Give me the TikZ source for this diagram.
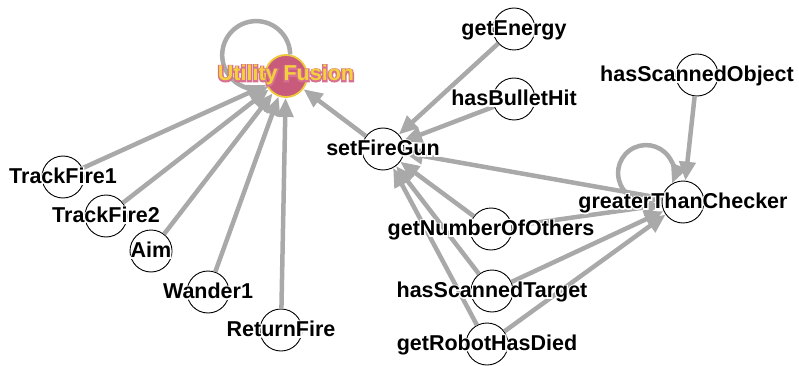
\documentclass[tikz,border=0pt]{standalone}
\usepackage{fontspec}
\setmainfont{Liberation Sans}
% heavily emboldened copy of the label face, used as a halo behind the text
\newfontface\halofont{Liberation Sans Bold}[FakeBold=12]
\usetikzlibrary{arrows.meta}

\definecolor{linkgray}{HTML}{A9A9A9}
\definecolor{hubfill}{HTML}{C85A7C}
\definecolor{hubring}{HTML}{F0C83C}
\definecolor{hubtext}{HTML}{F2D13B}
\definecolor{hubhalo}{HTML}{D8708F}

\newcommand\halo[2]{\leavevmode\rlap{\halofont\color{#1}#2}#2}

\begin{document}
\begin{tikzpicture}[x=1pt,y=-1pt,
  vertex/.style={circle, draw=black, line width=0.9pt, fill=white,
                 minimum size=42pt, inner sep=0pt},
  hub/.style={circle, draw=hubring, line width=1.8pt, fill=hubfill,
              minimum size=42pt, inner sep=0pt},
  tag/.style={anchor=base, inner sep=0pt,
              font=\fontsize{21.5}{26}\selectfont\bfseries},
  edge/.style={draw=linkgray, line width=4.5pt,
               -{Triangle[length=19pt,width=16pt]}},
]
\useasboundingbox (0,0) rectangle (799,366);

% vertices
\node[hub]    (uf)  at (286,76)  {};
\node[vertex] (en)  at (514,29)  {};
\node[vertex] (bh)  at (514,99)  {};
\node[vertex] (so)  at (697,75)  {};
\node[vertex] (fg)  at (383,149) {};
\node[vertex] (gt)  at (683,202) {};
\node[vertex] (no)  at (491,229) {};
\node[vertex] (st)  at (492,291) {};
\node[vertex] (rd)  at (487,344) {};
\node[vertex] (t1)  at (63,177)  {};
\node[vertex] (t2)  at (106,216) {};
\node[vertex] (aim) at (151,251) {};
\node[vertex] (w1)  at (208,292) {};
\node[vertex] (rf)  at (281,330) {};

% links into the fusion node
\draw[edge] (t1)  -- (uf);
\draw[edge] (t2)  -- (uf);
\draw[edge] (aim) -- (uf);
\draw[edge] (w1)  -- (uf);
\draw[edge] (rf)  -- (uf);
\draw[edge] (fg)  -- (uf);
\draw[edge] (uf.79) arc[start angle=-1, end angle=-291.6, radius=34];

% links into setFireGun
\draw[edge] (en) -- (fg);
\draw[edge] (bh) -- (fg);
\draw[edge] (gt) -- (fg);
\draw[edge] (no) -- (fg);
\draw[edge] (st) -- (fg);
\draw[edge] (rd) -- (fg);

% links into greaterThanChecker
\draw[edge] (so) -- (gt);
\draw[edge] (no) -- (gt);
\draw[edge] (st) -- (gt);
\draw[edge] (rd) -- (gt);
\draw[edge] (gt.163) arc[start angle=54, end angle=381.8, radius=28];

% labels
\node[tag, text=hubtext] (uf-l) at ([yshift=-5pt]uf.center) {\halo{hubhalo}{Utility Fusion}};
\node[tag] (en-l)  at ([yshift=-6.5pt]en.center)  {\halo{white}{getEnergy}};
\node[tag] (bh-l)  at ([yshift=-6.5pt]bh.center)  {\halo{white}{hasBulletHit}};
\node[tag] (so-l)  at ([yshift=-6.5pt]so.center)  {\halo{white}{hasScannedObject}};
\node[tag] (fg-l)  at ([yshift=-6.5pt]fg.center)  {\halo{white}{setFireGun}};
\node[tag] (gt-l)  at ([yshift=-6.5pt]gt.center)  {\halo{white}{greaterThanChecker}};
\node[tag] (no-l)  at ([yshift=-6.5pt]no.center)  {\halo{white}{getNumberOfOthers}};
\node[tag] (st-l)  at ([yshift=-6.5pt]st.center)  {\halo{white}{hasScannedTarget}};
\node[tag] (rd-l)  at ([yshift=-6.5pt]rd.center)  {\halo{white}{getRobotHasDied}};
\node[tag] (t1-l)  at ([yshift=-6.5pt]t1.center)  {\halo{white}{TrackFire1}};
\node[tag] (t2-l)  at ([yshift=-6.5pt]t2.center)  {\halo{white}{TrackFire2}};
\node[tag] (aim-l) at ([yshift=-6.5pt]aim.center) {\halo{white}{Aim}};
\node[tag] (w1-l)  at ([yshift=-6.5pt]w1.center)  {\halo{white}{Wander1}};
\node[tag] (rf-l)  at ([yshift=-6.5pt]rf.center)  {\halo{white}{ReturnFire}};
\end{tikzpicture}
\end{document}
